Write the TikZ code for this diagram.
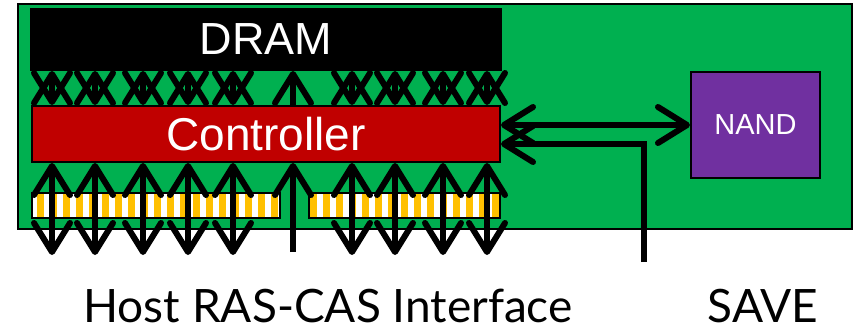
\documentclass[tikz,border=0pt]{standalone}
\usepackage{fontspec}
\setmainfont{Liberation Sans}
\newfontfamily\gillfont{Lato}
\usetikzlibrary{arrows.meta}
\definecolor{board}{RGB}{0,176,80}
\definecolor{ctrlred}{RGB}{192,0,0}
\definecolor{nandpurple}{RGB}{112,48,160}
\definecolor{pinyellow}{RGB}{255,192,0}
\begin{document}
\begin{tikzpicture}[x=1pt,y=-1pt,
  box/.style={draw=black,line width=2pt,inner sep=0pt,text=white},
  strip/.style={draw=black,line width=1.5pt,inner sep=0pt,outer sep=0pt,fill=white,minimum height=25pt},
  barb/.tip={Straight Barb[length=29pt,width=36pt,round]},
  bus/.style={line width=6pt,barb-barb},
  up/.style={line width=6pt,-barb},
  lbl/.style={inner sep=0pt,font=\gillfont\fontsize{46}{50}\selectfont}]
\useasboundingbox (0,0) rectangle (856,334);
\node[box,fill=board,minimum width=834pt,minimum height=225pt] (board) at (435,116.5) {};
\node[box,fill=black,minimum width=470pt,minimum height=61pt,font=\fontsize{45}{50}\selectfont] (dram) at (266,39.5) {DRAM};
\node[box,fill=ctrlred,minimum width=468pt,minimum height=56pt,font=\fontsize{46}{50}\selectfont] (ctrl) at (266,134) {Controller};
\node[box,fill=nandpurple,minimum width=129pt,minimum height=106pt,font=\fontsize{29}{32}\selectfont] (nand) at (755.5,125) {NAND};
\node[strip,minimum width=248pt] (sl) at (156,205.5) {};
\node[strip,minimum width=191pt] (sr) at (404.5,205.5) {};
\begin{scope}
\clip (sl.south west) rectangle (sl.north east) (sr.south west) rectangle (sr.north east);
\foreach \x in {32,45,...,500} \fill[pinyellow] (\x+5,190) rectangle (\x+12,220);
\end{scope}
\draw[line width=1.5pt] (sl.south west) rectangle (sl.north east);
\draw[line width=1.5pt] (sr.south west) rectangle (sr.north east);
\foreach \x in {52,95,143,188,233,352,395,443,487} {
  \draw[bus] (\x,0 |- dram.south) -- (\x,0 |- ctrl.north);
  \coordinate (pin\x) at (\x,255);
  \draw[bus] (\x,0 |- ctrl.south) -- (pin\x);
}
\coordinate (ras) at (293,252);
\draw[up] (ras) -- (ras |- ctrl.south);
\draw[up] (293,0 |- ctrl.north) -- (293,0 |- dram.south);
\draw[bus] (ctrl.east |- nand.west) -- (nand.west);
\coordinate (savein) at (644,262);
\draw[up] (savein) |- (ctrl.east |- 0,144);
\node[lbl,anchor=base] (host) at (328,322) {Host RAS-CAS Interface};
\node[lbl,anchor=base] (save) at (763,322) {SAVE};
\end{tikzpicture}
\end{document}
